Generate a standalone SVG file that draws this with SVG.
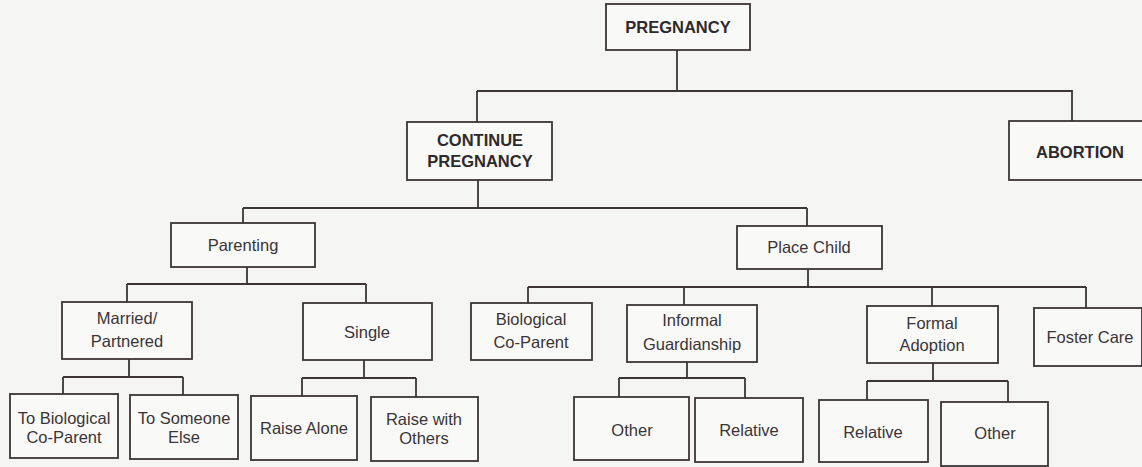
<svg xmlns="http://www.w3.org/2000/svg" width="1142" height="467" viewBox="0 0 1142 467">
<style>
.box{fill:#f9f9f8;stroke:#3b3537;stroke-width:1.8}
.t{font-family:"Liberation Sans",Arial,sans-serif;font-size:16.5px;fill:#3a3436;text-anchor:middle}
.b{font-family:"Liberation Sans",Arial,sans-serif;font-size:16.5px;font-weight:bold;fill:#2e2a2b;text-anchor:middle}
.c{fill:none;stroke:#3b3537;stroke-width:1.8}
</style>
<rect x="0" y="0" width="1142" height="467" fill="#f5f5f4"/>
<g id="connectors" class="c">
<path d="M677,50 V91 M477,91 H1072 V121 M477,91 V122"/>
<path d="M478,180 V208 M243,208 H807 M243,208 V223 M807,208 V226"/>
<path d="M247,267 V284 M127,284 H366 M127,284 V302 M366,284 V303"/>
<path d="M808,269 V287 M528,287 H1086 M528,287 V303 M684,287 V305 M932,287 V306 M1086,287 V308"/>
<path d="M129,359 V377 M63,377 H183 M63,377 V394 M183,377 V395"/>
<path d="M364,360 V378 M302,378 H416 M302,378 V396 M416,378 V397"/>
<path d="M687,362 V378 M619,378 H745 M619,378 V397 M745,378 V398"/>
<path d="M933,363 V381 M867,381 H1008 M867,381 V400 M1008,381 V402"/>
</g>
<g id="pregnancy"><rect class="box" x="606" y="4" width="144" height="46"/><text class="b" x="678" y="33">PREGNANCY</text></g>
<g id="continue"><rect class="box" x="407" y="122" width="145" height="58"/><text class="b" x="480" y="146">CONTINUE</text><text class="b" x="480" y="167">PREGNANCY</text></g>
<g id="abortion"><rect class="box" x="1009" y="121" width="141" height="59"/><text class="b" x="1080" y="158">ABORTION</text></g>
<g id="parenting"><rect class="box" x="171" y="223" width="144" height="44"/><text class="t" x="243" y="251">Parenting</text></g>
<g id="place-child"><rect class="box" x="737" y="226" width="145" height="43"/><text class="t" x="809" y="253">Place Child</text></g>
<g id="married"><rect class="box" x="62" y="302" width="130" height="57"/><text class="t" x="127" y="324">Married/</text><text class="t" x="127" y="347">Partnered</text></g>
<g id="single"><rect class="box" x="303" y="303" width="129" height="57"/><text class="t" x="367" y="338">Single</text></g>
<g id="biological-co-parent"><rect class="box" x="471" y="303" width="121" height="57"/><text class="t" x="531" y="325">Biological</text><text class="t" x="531" y="348">Co-Parent</text></g>
<g id="informal-guardianship"><rect class="box" x="627" y="305" width="130" height="57"/><text class="t" x="692" y="326">Informal</text><text class="t" x="692" y="350">Guardianship</text></g>
<g id="formal-adoption"><rect class="box" x="867" y="306" width="131" height="57"/><text class="t" x="932" y="329">Formal</text><text class="t" x="932" y="351">Adoption</text></g>
<g id="foster-care"><rect class="box" x="1034" y="308" width="108" height="58"/><text class="t" x="1090" y="343">Foster Care</text></g>
<g id="to-biological"><rect class="box" x="10" y="394" width="108" height="64"/><text class="t" x="64" y="424">To Biological</text><text class="t" x="64" y="443">Co-Parent</text></g>
<g id="to-someone-else"><rect class="box" x="130" y="395" width="108" height="64"/><text class="t" x="184" y="424">To Someone</text><text class="t" x="184" y="443">Else</text></g>
<g id="raise-alone"><rect class="box" x="251" y="396" width="106" height="64"/><text class="t" x="304" y="434">Raise Alone</text></g>
<g id="raise-with-others"><rect class="box" x="371" y="397" width="107" height="64"/><text class="t" x="424" y="425">Raise with</text><text class="t" x="424" y="444">Others</text></g>
<g id="ig-other"><rect class="box" x="574" y="397" width="115" height="63"/><text class="t" x="632" y="436">Other</text></g>
<g id="ig-relative"><rect class="box" x="695" y="398" width="108" height="64"/><text class="t" x="749" y="436">Relative</text></g>
<g id="fa-relative"><rect class="box" x="819" y="400" width="109" height="62"/><text class="t" x="873" y="438">Relative</text></g>
<g id="fa-other"><rect class="box" x="941" y="402" width="107" height="64"/><text class="t" x="995" y="439">Other</text></g>
</svg>
